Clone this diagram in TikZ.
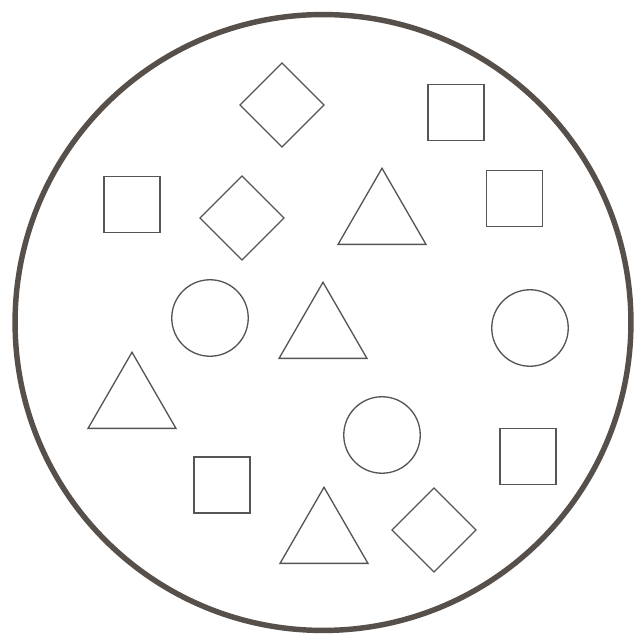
\documentclass[tikz,border=0pt]{standalone}
\usepackage{tikz}
\usetikzlibrary{shapes.geometric}
\definecolor{rim}{HTML}{574F49}
\definecolor{ink}{HTML}{555555}
\tikzset{
  shp/.style={draw=ink,line width=0.75pt,inner sep=0pt,outer sep=0pt},
  sqbox/.style={shp,rectangle,minimum size=1.12cm},
  dia/.style={shp,diamond,minimum width=1.68cm,minimum height=1.68cm},
  tri/.style={shp,regular polygon,regular polygon sides=3,minimum size=2.03cm},
  ring/.style={shp,circle,minimum size=1.53cm}
}
\begin{document}
\begin{tikzpicture}[x=0.02cm,y=-0.02cm]
  \useasboundingbox (0,0) rectangle (636,634);
  \fill[white] (0,0) rectangle (636,634);
  \node[circle,draw=rim,line width=3.1pt,minimum size=12.32cm,inner sep=0pt] (plate) at (323,322.5) {};
  \node[dia] (d1) at (282,105) {};
  \node[sqbox] (s1) at (456,112.5) {};
  \node[sqbox] (s2) at (132,204.5) {};
  \node[dia] (d2) at (242,218) {};
  \node[tri] (t1) at (382,219) {};
  \node[sqbox] (s3) at (514.5,198.5) {};
  \node[ring] (c1) at (210,318) {};
  \node[tri] (t2) at (323,333) {};
  \node[ring] (c2) at (530,328) {};
  \node[tri] (t3) at (132,403) {};
  \node[ring] (c3) at (382,435) {};
  \node[sqbox] (s4) at (528,456.5) {};
  \node[sqbox] (s5) at (222,485) {};
  \node[tri] (t4) at (324,538) {};
  \node[dia] (d3) at (434,530) {};
\end{tikzpicture}
\end{document}
